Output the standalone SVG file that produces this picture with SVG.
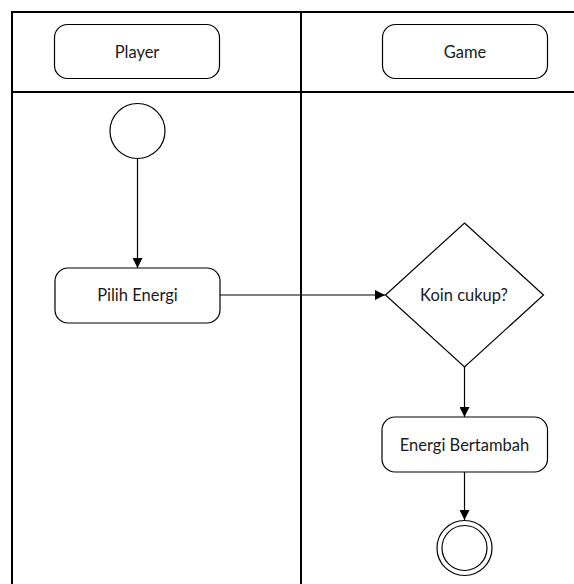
<svg xmlns="http://www.w3.org/2000/svg" width="574" height="584" viewBox="0 0 574 584">
  <style>
    .lane { stroke: #000; stroke-width: 2; fill: none; }
    .shape { stroke: #000; stroke-width: 1.2; fill: #fff; }
    .edge { stroke: #000; stroke-width: 1.2; fill: none; }
    text { font-family: Lato, "Liberation Sans", sans-serif; font-size: 16.5px; fill: #1a1a1a; text-anchor: middle; dominant-baseline: central; }
  </style>
  <defs>
    <marker id="arrow" viewBox="0 0 10 10" refX="10" refY="5" markerWidth="10" markerHeight="10" markerUnits="userSpaceOnUse" orient="auto">
      <path d="M0,0 L10,5 L0,10 z" fill="#000"/>
    </marker>
  </defs>
  <rect width="574" height="584" fill="#fff"/>

  <!-- swimlane frame -->
  <g id="lanes">
    <path class="lane" d="M12,584 V12 H574"/>
    <path class="lane" d="M12,92 H574"/>
    <path class="lane" d="M301,12 V584"/>
  </g>

  <g id="lane-player">
    <rect class="shape" x="54.5" y="24.5" width="165" height="54" rx="13"/>
    <text x="137" y="51.5">Player</text>
  </g>
  <g id="lane-game">
    <rect class="shape" x="382.5" y="24.5" width="165" height="54" rx="13"/>
    <text x="465" y="51.5">Game</text>
  </g>

  <!-- connectors -->
  <g id="connectors">
    <path class="edge" d="M137.5,159 V268" marker-end="url(#arrow)"/>
    <path class="edge" d="M220,295 H385" marker-end="url(#arrow)"/>
    <path class="edge" d="M464.5,367 V417" marker-end="url(#arrow)"/>
    <path class="edge" d="M464.5,472 V520" marker-end="url(#arrow)"/>
  </g>

  <g id="start">
    <circle class="shape" cx="137.5" cy="131" r="27.5"/>
  </g>
  <g id="pilih-energi">
    <rect class="shape" x="55" y="268" width="165" height="55" rx="13"/>
    <text x="137.5" y="295">Pilih Energi</text>
  </g>
  <g id="koin-cukup">
    <polygon class="shape" points="464.5,223 543.5,295 464.5,367 385.5,295"/>
    <text x="464" y="295">Koin cukup?</text>
  </g>
  <g id="energi-bertambah">
    <rect class="shape" x="382" y="417" width="165.5" height="55" rx="13"/>
    <text x="464.5" y="444.5">Energi Bertambah</text>
  </g>
  <g id="end">
    <circle class="shape" cx="464.5" cy="548" r="27.5"/>
    <circle class="shape" cx="464.5" cy="548" r="22.5"/>
  </g>
</svg>
